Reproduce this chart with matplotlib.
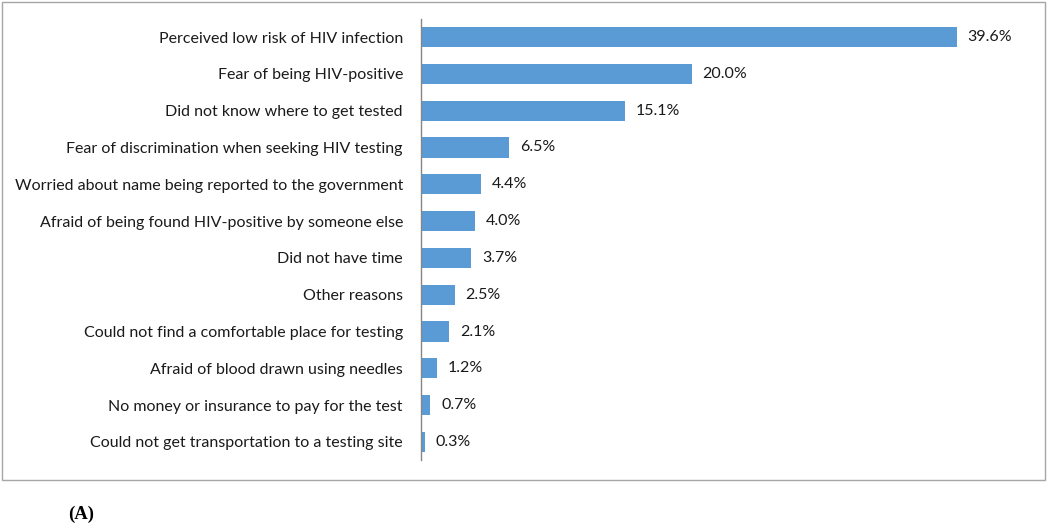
import matplotlib.pyplot as plt
from matplotlib.patches import Rectangle

reasons = [
    'Perceived low risk of HIV infection',
    'Fear of being HIV-positive',
    'Did not know where to get tested',
    'Fear of discrimination when seeking HIV testing',
    'Worried about name being reported to the government',
    'Afraid of being found HIV-positive by someone else',
    'Did not have time',
    'Other reasons',
    'Could not find a comfortable place for testing',
    'Afraid of blood drawn using needles',
    'No money or insurance to pay for the test',
    'Could not get transportation to a testing site',
]
percents = [39.6, 20.0, 15.1, 6.5, 4.4, 4.0, 3.7, 2.5, 2.1, 1.2, 0.7, 0.3]

W, H = 1050, 523
fig = plt.figure(figsize=(W / 100, H / 100), dpi=100)
ax = fig.add_axes([421 / W, (H - 460.4) / H, 609 / W, (460.4 - 18.6) / H])

y = list(range(len(reasons)))
ax.barh(y, percents, height=0.55, color='#5b9bd5')
for yi, v in zip(y, percents):
    ax.text(v + 0.8, yi, f'{v:.1f}%', va='center', ha='left', fontsize=11.5,
            family='Lato', color='#1a1a1a')

ax.set_yticks(y)
ax.set_yticklabels(reasons, fontsize=11.5, family='Lato', color='#1a1a1a')
ax.tick_params(axis='y', length=0, pad=13)
ax.set_xticks([])
ax.set_xlim(0, 45)
ax.set_ylim(len(reasons) - 0.5, -0.5)
for s in ['top', 'right', 'bottom']:
    ax.spines[s].set_visible(False)
ax.spines['left'].set_color('#868686')
ax.spines['left'].set_linewidth(1)

# outer chart border
fig.patches.append(Rectangle((2 / W, (H - 480) / H), 1043 / W, 478 / H,
                             transform=fig.transFigure, fill=False,
                             edgecolor='#a6a6a6', linewidth=1))

fig.text(68 / W, (H - 514) / H, '(A)', fontsize=13.5, weight='bold',
         family='Liberation Serif', va='center', ha='left')

fig.savefig('out.png', dpi=100)
